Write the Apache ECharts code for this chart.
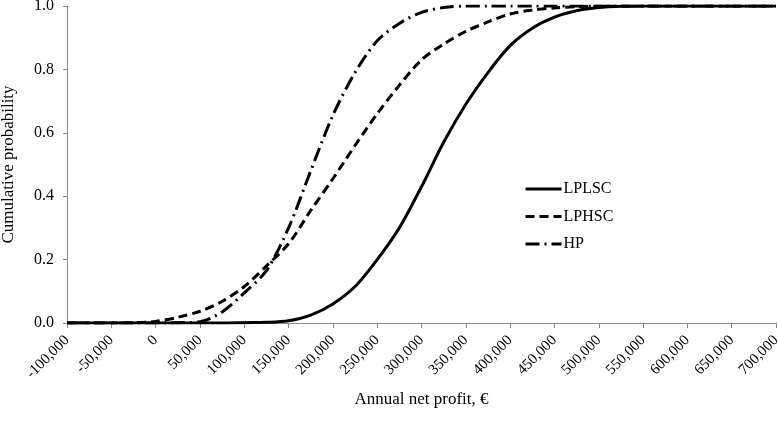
<!DOCTYPE html>
<html>
<head>
<meta charset="utf-8">
<script src="https://cdn.jsdelivr.net/npm/echarts@6/dist/echarts.min.js"></script>
<style>
  html, body { margin: 0; padding: 0; background: #fff; }
  #chart { width: 778px; height: 433px; }
</style>
</head>
<body>
<div id="chart"></div>
<script>
// profit steps, € (every 25,000)
const profitSteps = [
  -100000, -75000, -50000, -25000, 0, 25000, 50000, 75000, 100000, 125000,
  150000, 175000, 200000, 225000, 250000, 275000, 300000, 325000, 350000, 375000,
  400000, 425000, 450000, 475000, 500000, 525000, 550000, 575000, 600000, 625000,
  650000, 675000, 700000
]

const lplsc = [
  0, 0, 0, 0, 0, 0, 0, 0, 0.001, 0.002,
  0.007, 0.025, 0.06, 0.115, 0.2, 0.3, 0.43, 0.57, 0.69, 0.79,
  0.875, 0.93, 0.965, 0.985, 0.995, 0.999, 1, 1, 1, 1,
  1, 1, 1
]

const lphsc = [
  0, 0, 0, 0.001, 0.005, 0.018, 0.037, 0.068, 0.115, 0.18,
  0.25, 0.355, 0.455, 0.56, 0.66, 0.75, 0.83, 0.88, 0.92, 0.95,
  0.975, 0.987, 0.994, 0.998, 1, 1, 1, 1, 1, 1,
  1, 1, 1
]

const hp = [
  0, 0, 0, 0, 0, 0.001, 0.004, 0.035, 0.095, 0.165,
  0.3, 0.48, 0.655, 0.79, 0.89, 0.945, 0.98, 0.995, 1, 1,
  1, 1, 1, 1, 1, 1, 1, 1, 1, 1,
  1, 1, 1
]

const FONT = "'Liberation Serif', 'DejaVu Serif', serif"
const INK = '#000'
const AXIS = '#8a8a8a'

function pairs(values) {
  return profitSteps.map((x, i) => [x, values[i]])
}

function lineSeries(name, values, dash) {
  return {
    type: 'line',
    name,
    data: pairs(values),
    symbol: 'none',
    smooth: 0.3,
    lineStyle: { color: INK, width: 3, type: dash, cap: 'butt' },
    itemStyle: { color: INK },
  }
}

const chart = echarts.init(document.getElementById('chart'), null, { renderer: 'canvas' })

chart.setOption({
  animation: false,
  textStyle: { fontFamily: FONT, color: INK },
  grid: { left: 67, right: 2, top: 6, bottom: 110, containLabel: false, outerBoundsMode: 'none' },
  legend: {
    orient: 'vertical',
    left: 519,
    top: 176,
    itemWidth: 36,
    itemHeight: 12,
    itemGap: 11.5,
    itemStyle: { opacity: 0 },
    lineStyle: { width: 3 },
    textStyle: { fontFamily: FONT, fontSize: 16, lineHeight: 16, color: INK, padding: [0, 0, 0, -3] },
    data: ['LPLSC', 'LPHSC', 'HP'],
  },
  xAxis: {
    type: 'value',
    min: -100000,
    max: 700000,
    interval: 50000,
    name: 'Annual net profit, €',
    nameLocation: 'middle',
    nameGap: 68,
    nameTextStyle: { fontFamily: FONT, fontSize: 17, color: INK },
    axisLine: { lineStyle: { color: AXIS, width: 1 } },
    axisTick: { show: true, length: 5, lineStyle: { color: AXIS } },
    splitLine: { show: false },
    axisLabel: {
      rotate: 45,
      margin: 15,
      fontFamily: FONT,
      fontSize: 15,
      color: INK,
      formatter: (v) => v.toLocaleString('en-US'),
    },
  },
  yAxis: {
    type: 'value',
    min: 0,
    max: 1,
    interval: 0.2,
    name: 'Cumulative probability',
    nameLocation: 'middle',
    nameGap: 50,
    nameRotate: 90,
    nameTextStyle: { fontFamily: FONT, fontSize: 17, color: INK },
    axisLine: { show: true, onZero: false, lineStyle: { color: AXIS, width: 1 } },
    axisTick: { show: true, inside: false, length: 4, lineStyle: { color: AXIS } },
    splitLine: { show: false },
    axisLabel: {
      margin: 13,
      fontFamily: FONT,
      fontSize: 16,
      color: INK,
      formatter: (v) => v.toFixed(1),
    },
  },
  series: [
    lineSeries('LPLSC', lplsc, 'solid'),
    lineSeries('LPHSC', lphsc, [9, 5]),
    lineSeries('HP', hp, [14, 5, 2, 5]),
  ],
})
</script>
</body>
</html>
